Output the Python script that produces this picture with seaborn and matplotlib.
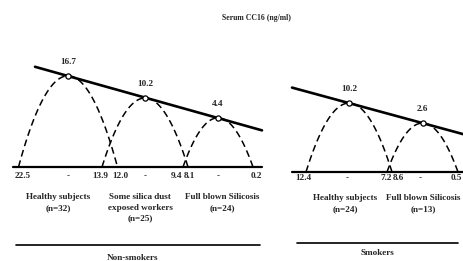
import numpy as np
import pandas as pd
import matplotlib
matplotlib.use('Agg')
import matplotlib.pyplot as plt
import seaborn as sns

# 数据: 血清 CC16 (ng/ml) 平均值及范围
ns_groups = ['Healthy subjects\n(n=32)', 'Some silica dust\nexposed workers\n(n=25)', 'Full blown Silicosis\n(n=24)']
ns_means = [16.7, 10.2, 4.4]
ns_high = [22.5, 12.0, 8.1]
ns_low = [13.9, 9.4, 0.2]

sm_groups = ['Healthy subjects\n(n=24)', 'Full blown Silicosis\n(n=13)']
sm_means = [10.2, 2.6]
sm_high = [12.4, 8.6]
sm_low = [7.2, 0.5]

sns.set_theme(style='white')
plt.rcParams['font.family'] = ['Liberation Serif', 'DejaVu Serif']

W, H = 463, 261
fig = plt.figure(figsize=(W / 100, H / 100), dpi=100)

# 底层坐标轴: 像素坐标, 放文字和分隔线
base = fig.add_axes([0, 0, 1, 1])
base.set_xlim(0, W)
base.set_ylim(H, 0)
base.axis('off')

fs = 6.6
base.text(257, 18, 'Serum CC16 (ng/ml)', ha='center', va='center', fontsize=5.6, fontweight='bold')


def make_panel(base_px, px_per_unit, base_val):
    # 面板坐标轴: x 为像素, y 为数值
    ax = fig.add_axes([0, 0, 1, 1])
    ax.patch.set_alpha(0)
    top = base_val + base_px / px_per_unit
    bottom = base_val - (H - base_px) / px_per_unit
    ax.set_xlim(0, W)
    ax.set_ylim(bottom, top)
    ax.axis('off')
    return ax


def draw_panel(ax, base_val, centers, half_w, means, line_x, x0, x1):
    for xc, hw, m in zip(centers, half_w, means):
        xs = np.linspace(xc - hw, xc + hw, 80)
        ys = base_val + (m - base_val) * (1 - ((xs - xc) / hw) ** 2)
        sns.lineplot(x=xs, y=ys, ax=ax, color='black', lw=1.1,
                     linestyle=(0, (4.5, 2.6)), sort=False, estimator=None)
    # 趋势线
    k, b = np.polyfit(centers, means, 1)
    lx = np.array(line_x)
    sns.lineplot(x=lx, y=k * lx + b, ax=ax, color='black', lw=1.9, estimator=None)
    # 基线
    ax.plot([x0, x1], [base_val, base_val], color='black', lw=1.6)
    sns.scatterplot(x=centers, y=means, ax=ax, marker='o', s=14, facecolor='white',
                    edgecolor='black', linewidth=0.9, zorder=5)
    for xc, m in zip(centers, means):
        ax.annotate('%.1f' % m, (xc, m), xytext=(0, 7), textcoords='offset points',
                    ha='center', va='bottom', fontsize=fs, fontweight='bold')


# 不吸烟组
ns_base = -10
ax1 = make_panel(167, 3.415, ns_base)
ns_centers = [68, 145, 218]
ns_hw = [49.5, 43, 35]
draw_panel(ax1, ns_base, ns_centers, ns_hw, ns_means, [35, 262], 13, 262)

# 吸烟组
sm_base = -16
ax2 = make_panel(172, 2.63, sm_base)
sm_centers = [349, 422.5]
sm_hw = [43, 35.5]
draw_panel(ax2, sm_base, sm_centers, sm_hw, sm_means, [292, 470], 292, 470)

# 范围标签
for i, xc in enumerate(ns_centers):
    base.text(xc, 176, '-', ha='center', va='center', fontsize=fs, fontweight='bold')
base.text(15, 176, '%.1f' % ns_high[0], ha='left', va='center', fontsize=fs, fontweight='bold')
base.text(108, 176, '%.1f' % ns_low[0], ha='right', va='center', fontsize=fs, fontweight='bold')
base.text(112, 176, '%.1f' % ns_high[1], ha='left', va='center', fontsize=fs, fontweight='bold')
base.text(182, 176, '%.1f' % ns_low[1], ha='right', va='center', fontsize=fs, fontweight='bold')
base.text(184, 176, '%.1f' % ns_high[2], ha='left', va='center', fontsize=fs, fontweight='bold')
base.text(262, 176, '%.1f' % ns_low[2], ha='right', va='center', fontsize=fs, fontweight='bold')

for xc in sm_centers:
    base.text(xc - 2, 178, '-', ha='center', va='center', fontsize=fs, fontweight='bold')
base.text(295, 178, '%.1f' % sm_high[0], ha='left', va='center', fontsize=fs, fontweight='bold')
base.text(392, 178, '%.1f' % sm_low[0], ha='right', va='center', fontsize=fs, fontweight='bold')
base.text(393, 178, '%.1f' % sm_high[1], ha='left', va='center', fontsize=fs, fontweight='bold')
base.text(462, 178, '%.1f' % sm_low[1], ha='right', va='center', fontsize=fs, fontweight='bold')

# 组名
ns_label_x = [58, 140, 222]
for x, g in zip(ns_label_x, ns_groups):
    base.text(x, 193, g, ha='center', va='top', fontsize=fs, fontweight='bold', linespacing=1.45)
sm_label_x = [345, 423]
for x, g in zip(sm_label_x, sm_groups):
    base.text(x, 194, g, ha='center', va='top', fontsize=fs, fontweight='bold', linespacing=1.6)

# 分隔线及分组
base.plot([16, 260], [245, 245], color='black', lw=1.2)
base.text(133, 258, 'Non-smokers', ha='center', va='center', fontsize=fs, fontweight='bold')
base.plot([297, 458], [243, 243], color='black', lw=1.2)
base.text(377, 253, 'Smokers', ha='center', va='center', fontsize=fs, fontweight='bold')

fig.savefig('out.png', dpi=100)
